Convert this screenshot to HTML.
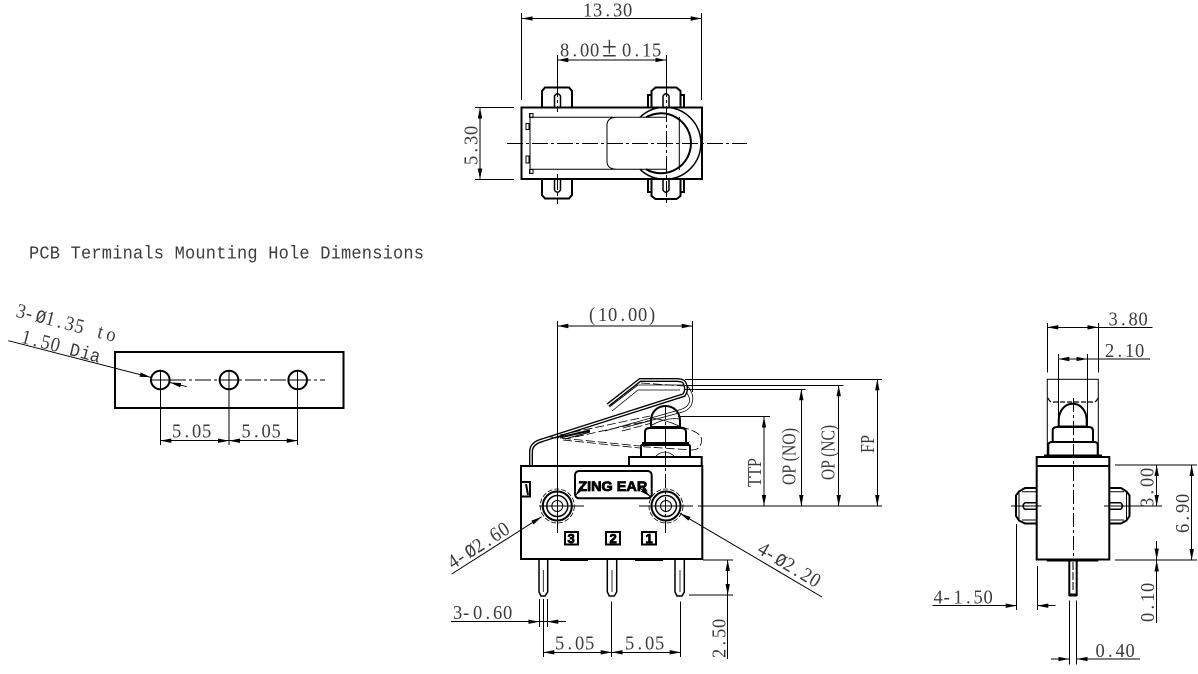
<!DOCTYPE html>
<html><head><meta charset="utf-8"><style>
html,body{margin:0;padding:0;background:#fff}
svg{display:block}
line,path,rect,circle,polyline{fill:none;stroke:#000;stroke-width:1}
line{shape-rendering:crispEdges}
line.g{shape-rendering:geometricPrecision}
.k{stroke-width:2}
.c{stroke-dasharray:16 3 3 3}
.d{stroke-dasharray:9 3;stroke-width:.8}
.w{stroke:#fff;stroke-width:1.2}
.a{marker-end:url(#ar);marker-start:url(#ar)}
.e{marker-end:url(#ar)}
text{font-family:"Liberation Serif",serif;font-size:18.500px;fill:#3c3c3c;transform-box:fill-box;transform-origin:0 100%;transform:scaleY(1.1)}
.m{font-family:"Liberation Mono",monospace;font-size:17px}
text.b{font-family:"Liberation Sans",sans-serif;font-weight:bold;fill:#000;stroke:#000;stroke-width:.8;transform:none}
</style></head><body>
<svg width="1198" height="674" viewBox="0 0 1198 674" xmlns="http://www.w3.org/2000/svg">
<defs><marker id="ar" markerUnits="userSpaceOnUse" markerWidth="11" markerHeight="5" refX="11" refY="2.500" orient="auto-start-reverse"><path d="M0 .3L11 2.500L0 4.700Z" style="fill:#000;stroke:none"/></marker></defs>

<!-- TOP VIEW -->
<path class="k" d="M542 107V91l3-3.500h24l3 3.500v16M542 179v16l3 3.500h24l3-3.500v-16"/>
<path class="k" d="M554.500 107V96q3-4.500 6 0v11M554.500 179v11q3 4.500 6 0v-11M663 107V96q3-4.500 6 0v11M663 179v11q3 4.500 6 0v-11" style="stroke-width:1.500"/>
<path class="k" d="M648 107V95h3.500V91l4-3.500h21l4 3.500v4h3.500v12M651.500 95V107M680.500 95V107M648 179v13h3.500v4l4 3h21l4-3v-4h3.500v-13M651.500 192V179M680.500 192V179"/>
<path d="M640 117.300A36 36 0 1 1 640 169.300" style="stroke-width:1.500"/>
<path d="M646 117.300A30 30 0 1 1 646 169.300" style="stroke-width:2"/>
<rect class="k" x="521.500" y="107.500" width="180.500" height="71.500"/>
<path d="M530 117.300H666M530 169.300H666M530 113.500V174M617 117.300q-10 0-10 8v36q0 8 10 8M679.300 117V170"/>
<path d="M529.500 113.500h3.500v4h-3.500zM526 123.500h3v6h-3zM526 156h3v7h-3zM529.500 169.500h3.500v4h-3.500z"/>
<line class="c" x1="507" y1="143.300" x2="747" y2="143.300"/>
<line class="c" x1="557.300" y1="81" x2="557.300" y2="112"/>
<line class="c" x1="666.300" y1="81" x2="666.300" y2="204"/>
<line class="c" x1="557.300" y1="174" x2="557.300" y2="204"/>
<line x1="521.700" y1="13" x2="521.700" y2="100"/><line x1="701.700" y1="13" x2="701.700" y2="100"/>
<line class="a" x1="521.700" y1="18.500" x2="701.700" y2="18.500"/>
<line x1="557.300" y1="55" x2="557.300" y2="82"/><line x1="666.300" y1="55" x2="666.300" y2="82"/>
<line class="a" x1="557.300" y1="60" x2="666.300" y2="60"/>
<line x1="475" y1="107.500" x2="514" y2="107.500"/><line x1="475" y1="179.500" x2="514" y2="179.500"/>
<line class="a" x1="480" y1="107.500" x2="480" y2="179.500"/>
<text y="17" x="583 593 605.500 613 623">13.30</text>
<text y="57" x="560 572.500 580 590 602 622 634.500 642 652">8.00<tspan style="font-size:27px">±</tspan>0.15</text>
<g transform="translate(478,165) rotate(-90)"><text y="0" x="0 12.500 20 30">5.30</text></g>

<text class="m" x="29" y="259" textLength="395">PCB Terminals Mounting Hole Dimensions</text>

<!-- HOLE PATTERN -->
<rect class="k" x="115" y="352" width="228.500" height="56"/>
<circle class="k" cx="160.300" cy="380" r="9.300"/><circle class="k" cx="229" cy="380" r="9.300"/><circle class="k" cx="297.700" cy="380" r="9.300"/>
<line class="c" x1="170" y1="380" x2="325" y2="380"/>
<line x1="151" y1="380" x2="170" y2="380"/><line x1="219" y1="380" x2="239" y2="380"/><line x1="288" y1="380" x2="307" y2="380"/>
<line x1="160.300" y1="370" x2="160.300" y2="445"/><line x1="229" y1="370" x2="229" y2="445"/><line x1="297.700" y1="370" x2="297.700" y2="445"/>
<line class="a" x1="160.300" y1="440.700" x2="229" y2="440.700"/><line class="a" x1="229" y1="440.700" x2="297.700" y2="440.700"/>
<line class="e g" x1="8.300" y1="340.700" x2="150.700" y2="377.300"/><line class="e g" x1="186.700" y1="386.700" x2="170" y2="382.500"/>
<text y="438" x="172 184.500 192 202">5.05</text><text y="438" x="241.500 254 261.500 271.500">5.05</text>
<g transform="translate(15,317) rotate(14.400)"><text y="0" x="0 10 20 30 42.500 50 60 70 84 93">3-<tspan class="m">Ø</tspan>1.35 to</text></g>
<g transform="translate(20,343) rotate(14.400)"><text y="0" x="0 12.500 20 30 40 50 61 71">1.50 <tspan class="m">Dia</tspan></text></g>

<!-- FRONT VIEW -->
<path d="M539 560V592l2 4h4l2.700-4V560M607.300 560V592l2 4h5l2.400-4V560M675 560V592l2 4h5l2.300-4V560" style="stroke-width:1.500"/>
<path d="M543.300 570V592M612 570V592M680 570V592" style="stroke-width:.8"/>
<path d="M531 465V452q0-9 12-12L684 395q4-6 0-13q-2-2-8-2H640L608 405" style="stroke-width:4"/>
<path class="w" d="M531 465V452q0-9 12-12L684 395q4-6 0-13q-2-2-8-2H640L608 405" style="stroke-width:1.300"/>
<path d="M612 411L638 390H680M609.500 407L638 385H684M686.700 385q7 8 6 15q-1 9-10 12L623 428M686 392q5 6 3 11q-2 5-10 7L605 431" style="stroke-width:.8"/>
<path class="d" d="M563 440L640 448M550 437L640 446M560 435L650 416M575 437L652 420M622 431L652 423M641 383L684 386M680 426.700Q702 432 701.700 440Q701 450 692 450L643 446.700"/>
<path d="M555 438L590 430M560 438L590 431M565 439L590 432" style="stroke-width:1"/>
<path class="k" d="M641 457V446q0-1 2-1H688q2 0 2 1v11"/>
<line x1="642" y1="443.500" x2="689" y2="443.500" style="stroke-width:3"/>
<path class="k" d="M645 442V432q0-4 5-4H681q5 0 5 4v10"/>
<path class="k" d="M651 427V421C651 401 680 401 680 421V427M651 427H680"/>
<path d="M655 457q10-10 20 0M652 418q14 2 27 8M652 425q14-8 28-6" style="stroke-width:.8"/>
<rect class="k" x="629" y="457" width="72.700" height="9"/>
<rect class="k" x="521" y="466" width="181.300" height="93"/>
<path d="M560 559.500H588M635 559.500H663" style="stroke-width:3"/>
<path class="k" d="M522 482H530V496.500H522"/>
<line class="g" x1="526" y1="484" x2="528" y2="495" style="stroke-width:2"/>
<rect class="k" x="575" y="471" width="76.700" height="27.300" rx="4"/>
<text class="b" x="578.300" y="491" textLength="69" lengthAdjust="spacingAndGlyphs" style="font-size:14px">ZING EAR</text>
<g>
<circle cx="557.300" cy="506" r="17" stroke-dasharray="5 2" style="stroke-width:.8"/><circle class="k" cx="557.300" cy="506" r="14.500"/><circle cx="557.300" cy="506" r="10.500" style="stroke-width:1.500"/><circle cx="557.300" cy="506" r="5.500"/>
<circle cx="666" cy="506" r="17" stroke-dasharray="5 2" style="stroke-width:.8"/><circle class="k" cx="666" cy="506" r="14.500"/><circle cx="666" cy="506" r="10.500" style="stroke-width:1.500"/><circle cx="666" cy="506" r="5.500"/>
</g>
<line x1="539" y1="506" x2="584" y2="506"/><line x1="639" y1="506" x2="693" y2="506"/><line x1="698" y1="506" x2="882" y2="506"/>
<line x1="557.300" y1="321" x2="557.300" y2="533"/>
<line x1="692.700" y1="321" x2="692.700" y2="392"/>
<line x1="665.700" y1="405" x2="665.700" y2="533" stroke-dasharray="14 3 3 3"/>
<line class="a" x1="557.300" y1="326" x2="692.700" y2="326"/>
<text y="321.500" x="589 598 608 620.500 628 638 649">(10.00)</text>

<line x1="685" y1="379.300" x2="882" y2="379.300"/><line x1="685" y1="385.300" x2="843.300" y2="385.300"/><line x1="685" y1="389.300" x2="805.700" y2="389.300"/><line x1="678" y1="416.700" x2="770" y2="416.700"/>
<line class="a" x1="764" y1="416.700" x2="764" y2="506"/><line class="a" x1="801.300" y1="389.300" x2="801.300" y2="506"/><line class="a" x1="838.700" y1="385.300" x2="838.700" y2="506"/><line class="a" x1="877.300" y1="379.300" x2="877.300" y2="506"/>
<g transform="translate(761.700,487) rotate(-90)"><text x="0" y="0" textLength="29" lengthAdjust="spacingAndGlyphs">TTP</text></g>
<g transform="translate(796,485) rotate(-90)"><text x="0" y="0" textLength="57" lengthAdjust="spacingAndGlyphs">OP (NO)</text></g>
<g transform="translate(835,480) rotate(-90)"><text x="0" y="0" textLength="55" lengthAdjust="spacingAndGlyphs">OP (NC)</text></g>
<g transform="translate(874.300,453) rotate(-90)"><text x="0" y="0" textLength="18" lengthAdjust="spacingAndGlyphs">FP</text></g>

<line class="e g" x1="451.700" y1="574" x2="541.700" y2="516.700"/>
<line class="e g" x1="587" y1="482" x2="575" y2="496"/>
<line class="e g" x1="640" y1="488" x2="650.700" y2="496.700"/>
<line class="e g" x1="822" y1="597" x2="680" y2="513.300"/>
<g transform="translate(453,570) rotate(-32.500)"><text y="0" x="0 10 20 30 42.500 50 60">4-<tspan class="m">Ø</tspan>2.60</text></g>
<g transform="translate(756,553) rotate(31)"><text y="0" x="0 10 20 30 42.500 50 60">4-<tspan class="m">Ø</tspan>2.20</text></g>

<rect class="k" x="565" y="532" width="13" height="12.500"/><rect class="k" x="606" y="532" width="14" height="12.500"/><rect class="k" x="642" y="532" width="14" height="12.500"/>
<text class="b" x="567.500" y="543" style="font-size:13px">3</text><text class="b" x="609.500" y="543" style="font-size:13px">2</text><text class="b" x="645.500" y="543" style="font-size:13px">1</text>

<line x1="703" y1="560" x2="733" y2="560"/><line x1="689" y1="595" x2="733" y2="595"/>
<line class="a" x1="727.700" y1="560" x2="727.700" y2="595"/><line x1="727.700" y1="595" x2="727.700" y2="659"/>
<g transform="translate(726,658) rotate(-90)"><text y="0" x="0 12.500 20 30">2.50</text></g>

<line x1="451" y1="621.700" x2="566" y2="621.700"/>
<line class="e" x1="525" y1="621.700" x2="539.300" y2="621.700"/><line class="e" x1="558" y1="621.700" x2="547.300" y2="621.700"/>
<line x1="539.300" y1="599" x2="539.300" y2="627"/><line x1="547.300" y1="599" x2="547.300" y2="627"/><line x1="543.300" y1="599" x2="543.300" y2="657"/>
<text y="619.300" x="453 463 473 485.500 493 503">3-0.60</text>
<line x1="611.700" y1="601.700" x2="611.700" y2="657"/><line x1="680.700" y1="601.700" x2="680.700" y2="657"/>
<line class="a" x1="543.300" y1="652.300" x2="611.700" y2="652.300"/><line class="a" x1="611.700" y1="652.300" x2="680.700" y2="652.300"/>
<text y="650" x="555 567.500 575 585">5.05</text><text y="650" x="625 637.500 645 655">5.05</text>

<!-- SIDE VIEW -->
<rect x="1047.300" y="379.300" width="51" height="77"/>
<path d="M1048 398q2 5 6 4H1092q4 1 6-4" stroke-dasharray="5 2" style="stroke-width:1.200"/>
<path class="k" d="M1058.700 426V421C1058.700 398 1086.700 398 1086.700 421V426"/>
<line x1="1057" y1="426.500" x2="1088" y2="426.500" style="stroke-width:2"/>
<path class="k" d="M1052.700 441V431q0-4 4-4H1089q4 0 4 4v10"/>
<path class="k" d="M1048.300 456V445q0-3 4-3H1094q3.700 0 3.700 3v11"/>
<line x1="1044" y1="455.500" x2="1102" y2="455.500" style="stroke-width:2"/>
<path class="k" d="M1036.700 457H1109.300V466H1036.700ZM1036.700 466V559.500H1109.300V466"/>
<path d="M1046.700 560H1098.300" style="stroke-width:3"/>
<line x1="1073.300" y1="398" x2="1073.300" y2="558" stroke-dasharray="14 3 3 3"/>
<path class="k" d="M1069.300 560V595H1076.700V560"/><line x1="1069" y1="595" x2="1077" y2="595" style="stroke-width:3"/>
<line x1="1073" y1="562" x2="1073" y2="592" stroke-dasharray="8 2" style="stroke-width:.8"/>
<path class="k" d="M1037 488H1025l-6 3.500-3 4V516l3 4.500 6 3H1037M1109 488h12l5.500 3.500 3 4V516l-3 4.500-5.500 3H1109"/>
<path d="M1019 491.500V520.500M1022 491.700H1037M1022 520H1037M1126.500 491.500V520.500M1124 491.700H1109M1124 520H1109"/>
<path d="M1037 502.700H1025q-4 3.300 0 6.600H1037M1109 502.700h11.500q4 3.300 0 6.600H1109" style="stroke-width:1.500"/>
<line x1="1011" y1="506" x2="1041.700" y2="506"/><line x1="1104" y1="506" x2="1162" y2="506"/>
<line x1="1016.700" y1="524" x2="1016.700" y2="610"/><line x1="1037.300" y1="566" x2="1037.300" y2="610"/>
<line x1="932.300" y1="605.700" x2="1016.700" y2="605.700"/><line class="e" x1="1003" y1="605.700" x2="1016.700" y2="605.700"/>
<line x1="1037.300" y1="605.700" x2="1055.700" y2="605.700"/><line class="e" x1="1050" y1="605.700" x2="1037.300" y2="605.700"/>
<text y="604" x="933.500 943.500 953.500 966 973.500 983.500">4-1.50</text>

<line x1="1047.300" y1="323" x2="1047.300" y2="372.700"/><line x1="1098.300" y1="323" x2="1098.300" y2="372.700"/>
<line class="a" x1="1047.300" y1="327.300" x2="1098.300" y2="327.300"/><line x1="1098.300" y1="327.300" x2="1152.700" y2="327.300"/>
<text y="326" x="1108.500 1121 1128.500 1138.500">3.80</text>
<line x1="1058.300" y1="354" x2="1058.300" y2="426"/><line x1="1087.300" y1="354" x2="1087.300" y2="426"/>
<line x1="1058.300" y1="359" x2="1150" y2="359"/>
<line class="e" x1="1072" y1="359" x2="1058.300" y2="359"/><line class="e" x1="1077" y1="359" x2="1087.300" y2="359"/>
<text y="357.300" x="1105 1117.500 1125 1135">2.10</text>

<line x1="1115" y1="465" x2="1197" y2="465"/><line x1="1115" y1="560" x2="1197" y2="560"/>
<line class="a" x1="1156.700" y1="465" x2="1156.700" y2="506"/>
<line class="a" x1="1191.700" y1="465" x2="1191.700" y2="560"/>
<g transform="translate(1154,507) rotate(-90)"><text y="0" x="0 12.500 20 30">3.00</text></g>
<g transform="translate(1189.300,533) rotate(-90)"><text y="0" x="0 12.500 20 30">6.90</text></g>
<line class="e" x1="1156.700" y1="541" x2="1156.700" y2="559.500"/>
<line x1="1156.700" y1="623" x2="1156.700" y2="561"/><line class="e" x1="1156.700" y1="575" x2="1156.700" y2="560.500"/>
<g transform="translate(1154.300,622) rotate(-90)"><text y="0" x="0 12.500 20 30">0.10</text></g>

<line x1="1069.300" y1="600.700" x2="1069.300" y2="664.300"/><line x1="1076.700" y1="600.700" x2="1076.700" y2="664.300"/>
<line x1="1051" y1="659" x2="1069.300" y2="659"/><line class="e" x1="1058" y1="659" x2="1069.300" y2="659"/>
<line x1="1076.700" y1="659" x2="1140" y2="659"/><line class="e" x1="1087" y1="659" x2="1076.700" y2="659"/>
<text y="657.300" x="1095.500 1108 1115.500 1125.500">0.40</text>
</svg>
</body></html>
